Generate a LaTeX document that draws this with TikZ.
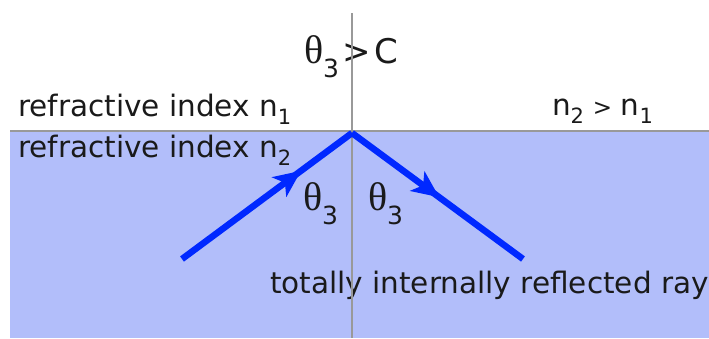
\documentclass[tikz,border=0pt]{standalone}
\usepackage{fontspec}
\setmainfont{DejaVu Sans}
\newfontfamily\thetafont{Liberation Serif}
\usetikzlibrary{arrows.meta,decorations.markings}
\definecolor{water}{HTML}{B2BEFA}
\definecolor{raycol}{HTML}{0028FF}
\definecolor{rulecol}{HTML}{999999}
\definecolor{ink}{HTML}{1A1A1A}
\newcommand{\sbx}[1]{\raisebox{-8pt}{\fontsize{21}{21}\selectfont #1}}
\newcommand{\thsym}{{\thetafont\fontsize{40}{40}\selectfont θ}}
\newcommand{\thsub}{\raisebox{-14pt}{\fontsize{25}{25}\selectfont 3}}
\tikzset{
  lbl/.style={inner sep=0pt, outer sep=0pt, anchor=base west, text=ink,
              font=\fontsize{29.5}{31}\selectfont},
  raypath/.style={draw=raycol, line width=6.5pt},
  guide/.style={draw=rulecol, line width=1.6pt},
  midarrow/.style={postaction={decorate, decoration={markings,
      mark=at position #1 with {\arrow{Stealth[length=27pt,width=24pt,inset=7pt]}}}}}
}
\begin{document}
\begin{tikzpicture}[x=1pt,y=-1pt]
  \useasboundingbox (0,0) rectangle (709,338);
  % medium
  \fill[water] (10,131) rectangle (709,338);
  % texts
  \node[lbl] (t1) at (18,116) {refractive index n\sbx{1}};
  \node[lbl] (t2) at (18,157) {refractive index n\sbx{2}};
  \node[lbl] (t3) at (552,115) {n\sbx{2}\,{\fontsize{23}{23}\selectfont\,>\,}\,n\sbx{1}};
  \node[lbl] (t4) at (270,293) {totally internally reflected ray};
  \node[lbl] (th1) at (304,63) {\thsym\thsub\hspace{3pt}{\fontsize{34}{34}\selectfont >\hspace{4pt}C}};
  \node[lbl] (th2) at (303,210) {\thsym\thsub};
  \node[lbl] (th3) at (368,210) {\thsym\thsub};
  % guide lines
  \coordinate (vt) at (352,13);
  \coordinate (vb) at (352,338);
  \coordinate (hl) at (10,131);
  \coordinate (hr) at (709,131);
  \draw[guide] (vt) -- (vb);
  \draw[guide] (hl) -- (hr);
  % rays
  \coordinate (A) at (182,259);
  \coordinate (P) at (352,133);
  \coordinate (B) at (523,259);
  \draw[raypath, midarrow=0.70] (A) -- (P);
  \draw[raypath, midarrow=0.51] (P) -- (B);
\end{tikzpicture}
\end{document}
